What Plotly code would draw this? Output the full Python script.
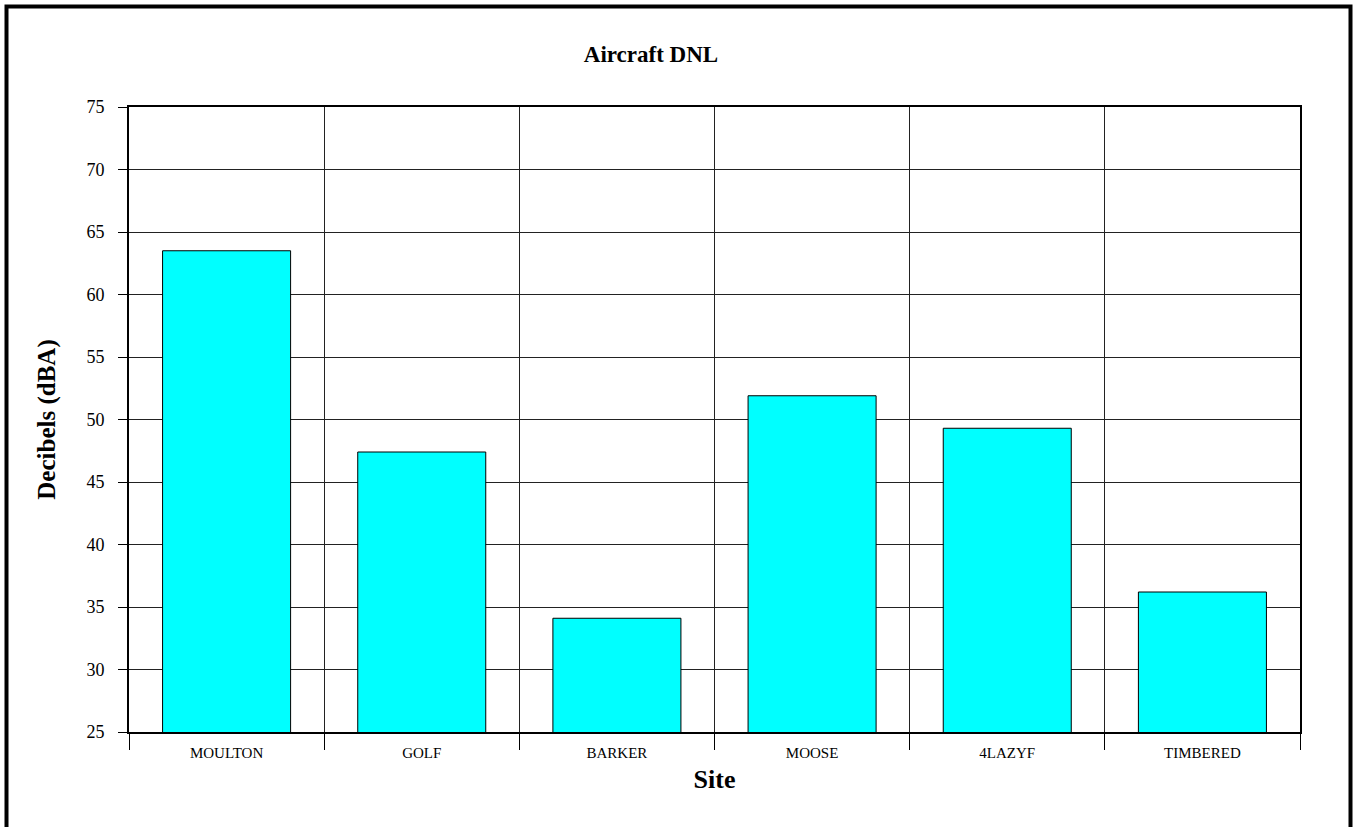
import numpy as np
import plotly.graph_objects as go

SITES = ["MOULTON", "GOLF", "BARKER", "MOOSE", "4LAZYF", "TIMBERED"]
DNL_DBA = [63.5, 47.4, 34.1, 51.9, 49.3, 36.2]
Y_TICKS = [25, 30, 35, 40, 45, 50, 55, 60, 65, 70, 75]

SERIF = "Liberation Serif, Times New Roman, serif"

x_pos = np.arange(len(SITES)) + 0.5
boundaries = np.arange(len(SITES) + 1)

fig = go.Figure()
fig.add_trace(
    go.Bar(
        x=x_pos,
        y=DNL_DBA,
        width=0.656,
        marker={"color": "#00FFFF", "line": {"color": "black", "width": 1}},
        hoverinfo="x+y",
    )
)

fig.update_layout(
    width=1353,
    height=827,
    paper_bgcolor="white",
    plot_bgcolor="white",
    showlegend=False,
    margin={"l": 129, "r": 53, "t": 107, "b": 95},
    title={
        "text": "<b>Aircraft DNL</b>",
        "font": {"family": SERIF, "size": 23, "color": "black"},
        "x": 651 / 1353,
        "xanchor": "center",
        "y": 1 - 54 / 827,
        "yanchor": "middle",
    },
    font={"family": SERIF, "color": "black"},
)

fig.update_xaxes(
    range=[0, len(SITES)],
    tickvals=x_pos,
    ticktext=SITES,
    ticks="",
    tickfont={"family": SERIF, "size": 15, "color": "black"},
    ticklabelstandoff=6,
    showgrid=False,
    zeroline=False,
    showline=True,
    linecolor="black",
    linewidth=2,
    mirror=True,
    minor={
        "tickvals": boundaries,
        "ticks": "outside",
        "ticklen": 16,
        "tickcolor": "black",
        "tickwidth": 1,
        "showgrid": True,
        "gridcolor": "#222222",
        "gridwidth": 1,
    },
    title={
        "text": "<b>Site</b>",
        "font": {"family": SERIF, "size": 26, "color": "black"},
        "standoff": 10,
    },
)

fig.update_yaxes(
    range=[25, 75],
    tickvals=Y_TICKS,
    ticks="outside",
    ticklen=9,
    tickcolor="black",
    tickwidth=1,
    tickfont={"family": SERIF, "size": 18, "color": "black"},
    ticklabelstandoff=10,
    showgrid=True,
    gridcolor="#222222",
    gridwidth=1,
    zeroline=False,
    showline=True,
    linecolor="black",
    linewidth=2,
    mirror=True,
    title={
        "text": "<b>Decibels (dBA)</b>",
        "font": {"family": SERIF, "size": 25, "color": "black"},
        "standoff": 24,
    },
)

# outer frame around the whole chart (bottom edge falls outside the window)
fig.add_shape(
    type="rect",
    xref="paper",
    yref="paper",
    x0=(6.5 - 129) / 1171,
    x1=(1350.5 - 129) / 1171,
    y0=(732 - 850) / 625,
    y1=(732 - 6.5) / 625,
    line={"color": "black", "width": 4},
    fillcolor="rgba(0,0,0,0)",
    layer="above",
)

fig.write_html(
    "out.html",
    config={"displayModeBar": False},
    post_script="document.body.style.margin='0';document.body.style.overflow='hidden';",
)
